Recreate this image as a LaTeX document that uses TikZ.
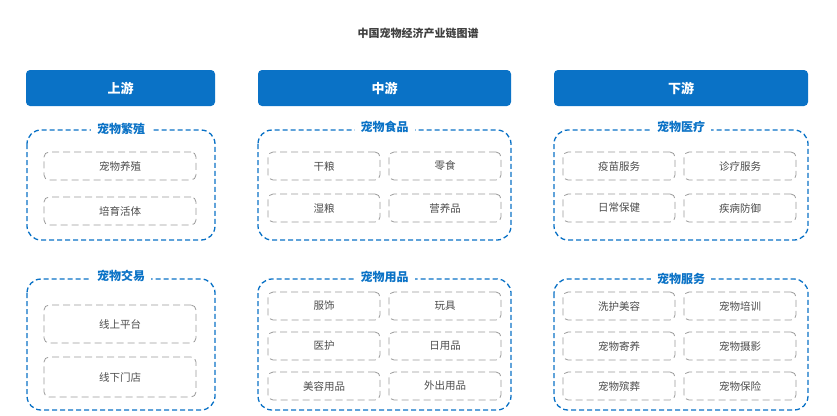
\documentclass[tikz,border=0pt]{standalone}
\usepackage{fontspec}
\newfontfamily\cjk{Noto Sans CJK SC}
\usetikzlibrary{positioning}
\definecolor{chainblue}{HTML}{0A72C6}
\definecolor{itemgray}{HTML}{9A9A9A}
\begin{document}
\begin{tikzpicture}[
                x = 1pt, y = -1pt,
                head/.style = {
                    fill = chainblue,
                    rounded corners = 4pt,
                    text = white,
                    font = \cjk\bfseries\fontsize{13}{13}\selectfont
                },
                group/.style = {
                    draw = chainblue,
                    dashed,
                    dash pattern = on 5pt off 3pt,
                    line width = 1.3pt,
                    rounded corners = 14pt
                },
                glabel/.style = {
                    fill = white,
                    inner xsep = 6pt,
                    text = chainblue,
                    font = \cjk\bfseries\fontsize{12}{12}\selectfont
                },
                item/.style = {
                    draw = itemgray,
                    dashed,
                    dash pattern = on 7pt off 4pt,
                    line width = 0.8pt,
                    rounded corners = 5pt,
                    minimum height = 28pt,
                    text = black!70,
                    font = \cjk\fontsize{10.5}{10.5}\selectfont
                }
            ]
            \useasboundingbox (0,0) rectangle (837,415);

            \node[font=\cjk\bfseries\fontsize{11}{11}\selectfont, text=black!75] (title) at (418,33) {中国宠物经济产业链图谱};

            % headers
            \fill[chainblue, rounded corners=4pt] (26,70) rectangle (215,106);
            \node[head] (up) at (120.5,88) {上游};
            \fill[chainblue, rounded corners=4pt] (258,70) rectangle (511,106);
            \node[head] (mid) at (384.5,88) {中游};
            \fill[chainblue, rounded corners=4pt] (554,70) rectangle (808,106);
            \node[head] (down) at (681,88) {下游};

            % groups
            \draw[group] (27,130) rectangle (215,240);
            \node[glabel] (g1) at (121,129) {宠物繁殖};
            \draw[group] (27,279) rectangle (215,410);
            \node[glabel] (g2) at (121,276) {宠物交易};
            \draw[group] (258,130) rectangle (511,240);
            \node[glabel] (g3) at (384.5,127) {宠物食品};
            \draw[group] (258,279) rectangle (511,410);
            \node[glabel] (g4) at (384.5,277) {宠物用品};
            \draw[group] (554,130) rectangle (808,240);
            \node[glabel] (g5) at (681,127) {宠物医疗};
            \draw[group] (554,279) rectangle (808,410);
            \node[glabel] (g6) at (681,279) {宠物服务};

            % upstream items
            \node[item, minimum width=152pt] (a1) at (120,166) {宠物养殖};
            \node[item, minimum width=152pt] (a2) at (120,211) {培育活体};
            \node[item, minimum width=152pt, minimum height=38pt] (a3) at (120,324) {线上平台};
            \node[item, minimum width=152pt, minimum height=40pt] (a4) at (120,377) {线下门店};

            % midstream items
            \foreach \txt/\x/\y in {干粮/324/166, 零食/445/166, 湿粮/324/208, 营养品/445/208,
                                    服饰/324/306, 玩具/445/306, 医护/324/346, 日用品/445/346,
                                    美容用品/324/386, 外出用品/445/386}
                \node[item, minimum width=112pt] (m-\txt) at (\x,\y) {\txt};

            % downstream items
            \foreach \txt/\x/\y in {疫苗服务/619/166, 诊疗服务/740/166, 日常保健/619/208, 疾病防御/740/208,
                                    洗护美容/619/306, 宠物培训/740/306, 宠物寄养/619/346, 宠物摄影/740/346,
                                    宠物殡葬/619/386, 宠物保险/740/386}
                \node[item, minimum width=112pt] (d-\txt) at (\x,\y) {\txt};

         \end{tikzpicture}
\end{document}
